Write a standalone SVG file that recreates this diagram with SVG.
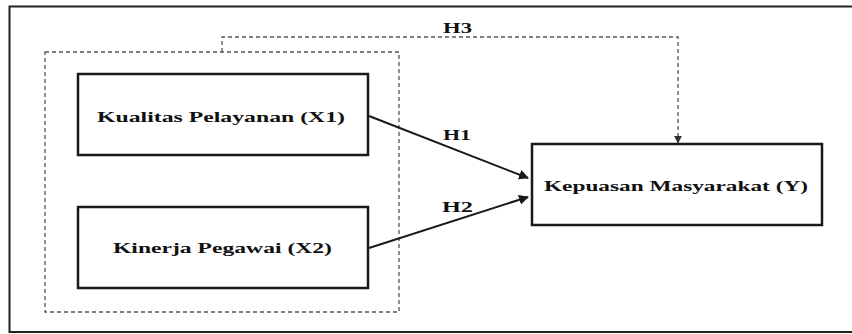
<svg xmlns="http://www.w3.org/2000/svg" width="852" height="334" viewBox="0 0 852 334">
<defs>
<style>
.box{fill:#fff;stroke:#1a1a1a;stroke-width:2.5}
.lbl{font-family:"Liberation Serif","Times New Roman",serif;font-weight:bold;font-size:15px;fill:#111}
.h{font-family:"Liberation Serif","Times New Roman",serif;font-weight:bold;font-size:14px;fill:#111}
.dash{fill:none;stroke:#555;stroke-width:1.3;stroke-dasharray:4 3}
.arr{fill:none;stroke:#1a1a1a;stroke-width:2}
</style>
<marker id="ah" viewBox="0 0 10 10" refX="9" refY="5" markerWidth="5" markerHeight="5" orient="auto" markerUnits="strokeWidth">
<path d="M0,0 L10,5 L0,10 z" fill="#1a1a1a"/>
</marker>
<marker id="ahd" viewBox="0 0 10 10" refX="9" refY="5" markerWidth="6" markerHeight="6" orient="auto" markerUnits="strokeWidth">
<path d="M0,0 L10,5 L0,10 z" fill="#333"/>
</marker>
</defs>
<rect x="0" y="0" width="852" height="334" fill="#fff"/>
<g id="frame">
<path d="M860,6.5 L9.5,6.5 L9.5,332 L860,332" fill="none" stroke="#222" stroke-width="2"/>
</g>
<g id="group-x">
<rect x="45" y="52" width="354" height="260" class="dash"/>
</g>
<g id="connectors">
<path d="M222,52 L222,37 L678,37 L678,143" class="dash" marker-end="url(#ahd)"/>
<line x1="369" y1="116" x2="528" y2="178" class="arr" marker-end="url(#ah)"/>
<line x1="369" y1="248" x2="528" y2="197" class="arr" marker-end="url(#ah)"/>
<text x="443" y="33" class="h" textLength="29" lengthAdjust="spacingAndGlyphs">H3</text>
<text x="443" y="140" class="h" textLength="28" lengthAdjust="spacingAndGlyphs">H1</text>
<text x="442" y="212" class="h" textLength="31" lengthAdjust="spacingAndGlyphs">H2</text>
</g>
<g id="x1">
<rect x="78" y="74" width="290" height="81" class="box"/>
<text x="97" y="122" class="lbl" textLength="248" lengthAdjust="spacingAndGlyphs">Kualitas  Pelayanan (X1)</text>
</g>
<g id="x2">
<rect x="78" y="207" width="290" height="81" class="box"/>
<text x="113" y="253" class="lbl" textLength="219" lengthAdjust="spacingAndGlyphs">Kinerja Pegawai (X2)</text>
</g>
<g id="y">
<rect x="532" y="144" width="290" height="81" class="box"/>
<text x="544" y="191" class="lbl" textLength="264" lengthAdjust="spacingAndGlyphs">Kepuasan Masyarakat (Y)</text>
</g>
</svg>
